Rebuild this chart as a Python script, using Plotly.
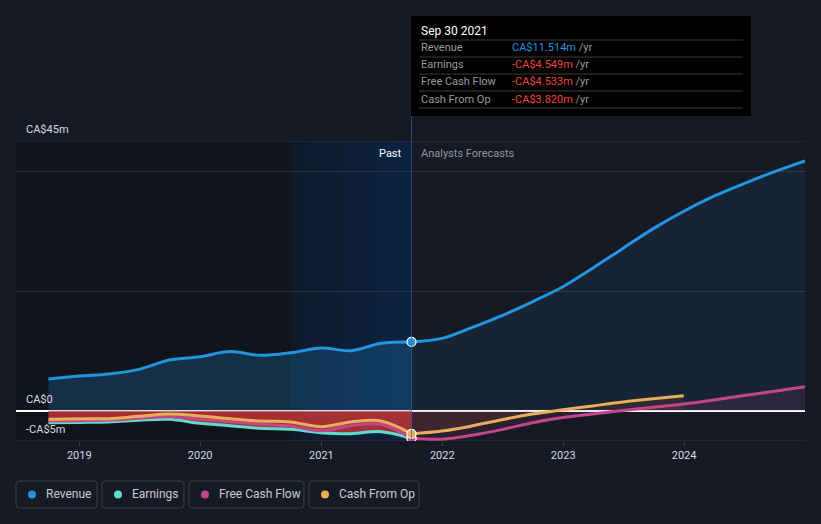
import plotly.graph_objects as go
import datetime as _dt

# ---------------- data (CA$ millions) ----------------
past_dates = ["2018-09-30", "2018-12-31", "2019-03-31", "2019-06-30", "2019-09-30",
              "2019-12-31", "2020-03-31", "2020-06-30", "2020-09-30", "2020-12-31",
              "2021-03-31", "2021-06-30", "2021-09-30"]
revenue_past = [5.33, 5.83, 6.17, 6.94, 8.5, 9.05, 9.9, 9.28, 9.7, 10.5, 10.06, 11.28, 11.514]
earnings_past = [-1.95, -1.9, -1.83, -1.56, -1.39, -2.06, -2.44, -2.89, -3.06, -3.61, -3.78, -3.44, -4.549]
fcf_past = [-1.67, -1.61, -1.5, -1.22, -0.94, -1.39, -1.78, -2.22, -2.5, -3.28, -2.44, -2.22, -4.533]
cfo_past = [-1.39, -1.28, -1.28, -0.89, -0.5, -0.83, -1.28, -1.67, -1.83, -2.61, -1.83, -1.67, -3.82]

fc_dates = ["2021-09-30", "2021-12-31", "2022-03-31", "2022-06-30", "2022-09-30", "2022-12-31",
            "2023-03-31", "2023-06-30", "2023-09-30", "2023-12-31", "2024-03-31", "2024-06-30",
            "2024-09-30", "2024-12-31"]
revenue_fc = [11.514, 12.1, 13.9, 15.9, 18.2, 20.7, 23.8, 27.1, 30.4, 33.3, 35.8, 37.9, 39.9, 41.7]
fcf_fc = [-4.533, -4.7, -4.05, -3.1, -1.95, -1.1, -0.5, 0.08, 0.62, 1.17, 1.85, 2.6, 3.3, 4.05]
cfo_fc_dates = ["2021-09-30", "2021-12-31", "2022-03-31", "2022-06-30", "2022-09-30", "2022-12-31",
                "2023-03-31", "2023-06-30", "2023-09-30", "2023-12-31"]
cfo_fc = [-3.82, -3.35, -2.5, -1.45, -0.5, 0.2, 0.85, 1.5, 2.05, 2.55]

year_ticks = ["2019-01-01", "2020-01-01", "2021-01-01", "2022-01-01", "2023-01-01", "2024-01-01"]
year_labels = ["2019", "2020", "2021", "2022", "2023", "2024"]
y_grid = [-5, 0, 20, 40, 45]

tooltip_date = "Sep 30 2021"
series_names = ["Revenue", "Earnings", "Free Cash Flow", "Cash From Op"]

# ---------------- style ----------------
BG = "#151a24"
C_REV = "#2394df"
C_EARN = "#5fdccb"
C_FCF = "#c4468a"
C_CFO = "#e8ae5a"
FONT = "Roboto"
W, H = 821, 524
L, R, T, B = 16, 805, 141, 441
X_RANGE = ["2018-06-24", "2024-12-31"]


def px(x):
    return (x - L) / (R - L)


def py(y):
    return (B - y) / (B - T)


fig = go.Figure()

# fills
fig.add_trace(go.Scatter(x=past_dates, y=revenue_past, mode="lines", line=dict(width=0, shape="spline"),
                         fill="tozeroy", fillcolor="rgba(35,148,223,0.22)", hoverinfo="skip", showlegend=False))
fig.add_trace(go.Scatter(x=fc_dates, y=revenue_fc, mode="lines", line=dict(width=0, shape="spline"),
                         fill="tozeroy", fillcolor="rgba(35,148,223,0.09)", hoverinfo="skip", showlegend=False))
fig.add_trace(go.Scatter(x=past_dates, y=earnings_past, mode="lines", line=dict(width=0, shape="spline"),
                         fill="tozeroy", fillcolor="rgba(205,55,55,0.78)", hoverinfo="skip", showlegend=False))
fig.add_trace(go.Scatter(x=fc_dates, y=fcf_fc, mode="lines", line=dict(width=0, shape="spline"),
                         fill="tozeroy", fillcolor="rgba(196,70,138,0.12)", hoverinfo="skip", showlegend=False))
fig.add_trace(go.Scatter(x=cfo_fc_dates, y=cfo_fc, mode="lines", line=dict(width=0, shape="spline"),
                         fill="tozeroy", fillcolor="rgba(210,90,60,0.12)", hoverinfo="skip", showlegend=False))

# lines
for xs, ys, c in [
    (past_dates, earnings_past, C_EARN),
    (past_dates, fcf_past, C_FCF),
    (fc_dates, fcf_fc, C_FCF),
    (past_dates, cfo_past, C_CFO),
    (cfo_fc_dates, cfo_fc, C_CFO),
    (past_dates, revenue_past, C_REV),
    (fc_dates, revenue_fc, C_REV),
]:
    fig.add_trace(go.Scatter(x=xs, y=ys, mode="lines", line=dict(color=c, width=3, shape="spline"),
                             hoverinfo="skip", showlegend=False))

# end-of-past markers
for ys, c in [(earnings_past, C_EARN), (fcf_past, C_FCF), (cfo_past, C_CFO), (revenue_past, C_REV)]:
    fig.add_trace(go.Scatter(x=[past_dates[-1]], y=[ys[-1]], mode="markers",
                             marker=dict(color=c, size=9, line=dict(color="white", width=1.2)),
                             hoverinfo="skip", showlegend=False))

shapes = []
# dark "older" region
shapes.append(dict(type="rect", xref="x", yref="paper", x0=X_RANGE[0], x1="2020-09-30", y0=0, y1=1,
                   fillcolor="#10141b", line=dict(width=0), layer="below"))
# last-year highlight gradient (strips)
d0 = _dt.date(2020, 9, 30)
d1 = _dt.date(2021, 9, 30)
n = 12
span = (d1 - d0).days
for i in range(n):
    a = d0 + _dt.timedelta(days=span * i / n)
    b = d0 + _dt.timedelta(days=span * (i + 1) / n)
    t = (i + 0.5) / n
    r = int(15 + (12 - 15) * t)
    g = int(26 + (36 - 26) * t)
    bb = int(43 + (68 - 43) * t)
    shapes.append(dict(type="rect", xref="x", yref="paper", x0=a.isoformat(), x1=b.isoformat(), y0=0, y1=1,
                       fillcolor=f"rgb({r},{g},{bb})", line=dict(width=0), layer="below"))
# top / bottom grid lines
for yv in (y_grid[0], y_grid[-1]):
    shapes.append(dict(type="line", xref="paper", yref="y", x0=0, x1=1, y0=yv, y1=yv,
                       line=dict(color="#2f353f", width=1), layer="below"))
# divider line
shapes.append(dict(type="line", xref="x", yref="paper", x0=past_dates[-1], x1=past_dates[-1],
                   y0=0, y1=py(116), line=dict(color="rgba(70,95,130,0.7)", width=1)))

# tooltip box
shapes.append(dict(type="rect", xref="paper", yref="paper", x0=px(411), x1=px(751), y0=py(116), y1=py(16),
                   fillcolor="#000000", line=dict(width=0)))
for yy in [40, 57, 74, 91, 108]:
    shapes.append(dict(type="line", xref="paper", yref="paper", x0=px(419), x1=px(743), y0=py(yy), y1=py(yy),
                       line=dict(color="#3a3a3a", width=1)))

annotations = []
annotations.append(dict(xref="paper", yref="paper", x=px(419), y=py(31), text=tooltip_date, showarrow=False,
                        xanchor="left", yanchor="middle", font=dict(family=FONT, size=12, color="#ffffff")))
vals = [revenue_past[-1], earnings_past[-1], fcf_past[-1], cfo_past[-1]]
for i, (name, v) in enumerate(zip(series_names, vals)):
    yy = 48 + 17 * i
    col = "#2394df" if v >= 0 else "#f0443a"
    s = f"CA${v:.3f}m" if v >= 0 else f"-CA${abs(v):.3f}m"
    annotations.append(dict(xref="paper", yref="paper", x=px(419), y=py(yy), text=name, showarrow=False,
                            xanchor="left", yanchor="middle", font=dict(family=FONT, size=11, color="#9a9a9a")))
    annotations.append(dict(xref="paper", yref="paper", x=px(510), y=py(yy),
                            text=f"<span style='color:{col}'>{s}</span> /yr", showarrow=False,
                            xanchor="left", yanchor="middle", font=dict(family=FONT, size=11, color="#9a9a9a")))

# Past / Analysts Forecasts
annotations.append(dict(xref="paper", yref="paper", x=px(404), y=py(153), text="Past", showarrow=False,
                        xanchor="right", yanchor="middle", font=dict(family=FONT, size=11, color="#ffffff")))
annotations.append(dict(xref="paper", yref="paper", x=px(419), y=py(153), text="Analysts Forecasts",
                        showarrow=False, xanchor="left", yanchor="middle",
                        font=dict(family=FONT, size=11, color="#8f949c")))

# y labels
for txt, yy in [("CA$45m", 129), ("CA$0", 399), ("-CA$5m", 429)]:
    annotations.append(dict(xref="paper", yref="paper", x=px(24), y=py(yy), text=txt, showarrow=False,
                            xanchor="left", yanchor="middle", font=dict(family=FONT, size=11, color="#d7dae0")))

# legend boxes
legend_boxes = [(16, 97), (102, 184), (189, 304), (309, 419)]
legend_colors = [C_REV, C_EARN, C_FCF, C_CFO]
for (x0, x1), name, c in zip(legend_boxes, series_names, legend_colors):
    r = 3
    y0, y1 = 481, 508
    path = (f"M {px(x0 + r)} {py(y0)} L {px(x1 - r)} {py(y0)} Q {px(x1)} {py(y0)} {px(x1)} {py(y0 + r)} "
            f"L {px(x1)} {py(y1 - r)} Q {px(x1)} {py(y1)} {px(x1 - r)} {py(y1)} "
            f"L {px(x0 + r)} {py(y1)} Q {px(x0)} {py(y1)} {px(x0)} {py(y1 - r)} "
            f"L {px(x0)} {py(y0 + r)} Q {px(x0)} {py(y0)} {px(x0 + r)} {py(y0)} Z")
    shapes.append(dict(type="path", xref="paper", yref="paper", path=path, fillcolor=BG,
                       line=dict(color="#3a414d", width=1)))
    shapes.append(dict(type="circle", xref="paper", yref="paper", x0=px(x0 + 12), x1=px(x0 + 20),
                       y0=py(498.5), y1=py(490.5), fillcolor=c, line=dict(width=0)))
    annotations.append(dict(xref="paper", yref="paper", x=px(x0 + 28), y=py(494.5), text=name, showarrow=False,
                            xanchor="left", yanchor="middle", font=dict(family=FONT, size=12, color="#c9ccd2")))

fig.update_layout(
    width=W, height=H,
    margin=dict(l=L, r=W - R, t=T, b=H - B),
    paper_bgcolor=BG, plot_bgcolor=BG,
    showlegend=False,
    shapes=shapes, annotations=annotations,
    xaxis=dict(type="date", range=X_RANGE, tickvals=year_ticks, ticktext=year_labels,
               showgrid=False, zeroline=False, showline=False, ticks="outside", ticklen=4,
               tickcolor="#3a404a", tickfont=dict(family=FONT, size=11, color="#d7dae0"), fixedrange=True),
    yaxis=dict(range=[-5, 45], tickvals=y_grid, showticklabels=False, showgrid=True, gridcolor="#2c323c",
               gridwidth=1, zeroline=True, zerolinecolor="#ffffff", zerolinewidth=1.5, fixedrange=True),
)

fig.write_html("out.html", config={"displayModeBar": False},
               post_script="document.body.style.margin='0';document.body.style.background='%s';" % BG)
